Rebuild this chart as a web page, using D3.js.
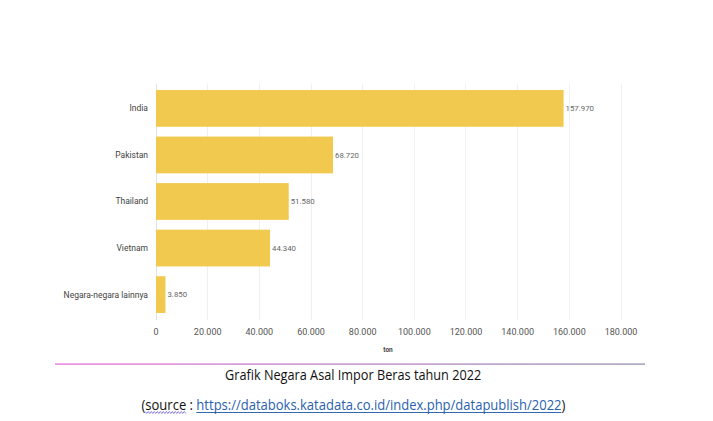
<!DOCTYPE html>
<html>
<head>
<meta charset="utf-8">
<script src="https://cdn.jsdelivr.net/npm/d3@7"></script>
<style>
  html, body { margin: 0; padding: 0; background: #fff; }
  svg { display: block; }
</style>
</head>
<body>
<svg id="chart" width="713" height="421"></svg>
<script>
// ---- data ----
const categories = ["India", "Pakistan", "Thailand", "Vietnam", "Negara-negara lainnya"];
const values = [157970, 68720, 51580, 44340, 3850];
const xTicks = [0, 20000, 40000, 60000, 80000, 100000, 120000, 140000, 160000, 180000];
const axisTitle = "ton";
const captionText = "Grafik Negara Asal Impor Beras tahun 2022";
const sourcePrefix = "(source : ";
const sourceUrl = "https://databoks.katadata.co.id/index.php/datapublish/2022";
const sourceSuffix = ")";

const svg = d3.select("#chart");
const loc = d3.formatLocale({decimal: ",", thousands: ".", grouping: [3], currency: ["", ""]});
const fmt = loc.format(",d");

const x = d3.scaleLinear().domain([0, 180000]).range([155.5, 620.5]);
const y = d3.scaleBand().domain(categories).range([83.5, 319.5]).paddingInner(0.21).paddingOuter(0.14);

const chartFont = "Roboto, 'Liberation Sans', sans-serif";

// gridlines
svg.append("g").selectAll("line").data(xTicks.slice(1)).join("line")
  .attr("x1", d => Math.round(x(d)) + 0.5).attr("x2", d => Math.round(x(d)) + 0.5)
  .attr("y1", 83.5).attr("y2", 320)
  .attr("stroke", "#f0f0f0").attr("stroke-width", 1);

// axis line
svg.append("line")
  .attr("x1", Math.round(x(0)) + 0.5).attr("x2", Math.round(x(0)) + 0.5)
  .attr("y1", 83.5).attr("y2", 320)
  .attr("stroke", "#e2e2e2");

// bars
svg.append("g").selectAll("rect").data(categories).join("rect")
  .attr("x", x(0) + 0.5)
  .attr("y", d => y(d))
  .attr("width", (d, i) => x(values[i]) - x(0) - 0.5)
  .attr("height", y.bandwidth())
  .attr("fill", "#f2c94f");

// category labels
svg.append("g").selectAll("text").data(categories).join("text")
  .attr("x", 148)
  .attr("y", d => y(d) + y.bandwidth() / 2)
  .attr("dy", "0.35em")
  .attr("text-anchor", "end")
  .attr("font-family", chartFont)
  .attr("font-size", 8.5)
  .attr("fill", "#444")
  .text(d => d);

// value labels
svg.append("g").selectAll("text").data(categories).join("text")
  .attr("x", (d, i) => x(values[i]) + 2)
  .attr("y", d => y(d) + y.bandwidth() / 2)
  .attr("dy", "0.35em")
  .attr("font-family", chartFont)
  .attr("font-size", 7.8)
  .attr("fill", "#666")
  .text((d, i) => fmt(values[i]));

// x axis tick labels
const xAxis = d3.axisBottom(x).tickValues(xTicks).tickFormat(fmt).tickSize(0).tickPadding(0);
const gx = svg.append("g").attr("transform", "translate(0,329)").call(xAxis);
gx.select(".domain").remove();
gx.selectAll("text")
  .attr("font-family", chartFont)
  .attr("font-size", 9)
  .attr("fill", "#555");

// axis title
svg.append("text")
  .attr("x", (x.range()[0] + x.range()[1]) / 2)
  .attr("y", 352)
  .attr("text-anchor", "middle")
  .attr("font-family", chartFont)
  .attr("font-size", 6.5)
  .attr("font-weight", "bold")
  .attr("fill", "#444")
  .text(axisTitle);

// separator line with gradient
const defs = svg.append("defs");
const grad = defs.append("linearGradient").attr("id", "sepGrad")
  .attr("x1", "0%").attr("x2", "100%").attr("y1", "0%").attr("y2", "0%");
grad.append("stop").attr("offset", "0%").attr("stop-color", "#e464d4");
grad.append("stop").attr("offset", "50%").attr("stop-color", "#b478c0");
grad.append("stop").attr("offset", "100%").attr("stop-color", "#8c86a6");
svg.append("rect")
  .attr("x", 55).attr("y", 363.5).attr("width", 590).attr("height", 1.2)
  .attr("fill", "url(#sepGrad)");

// caption
const docFont = "'Open Sans', 'Noto Sans', sans-serif";
function fitWidth(g, left, target) {
  const bb = g.node().getBBox();
  const s = target / bb.width;
  g.attr("transform", `translate(${left},0) scale(${s},1) translate(${-bb.x},0)`);
  return s;
}
const capG = svg.append("g");
capG.append("text")
  .attr("x", 0).attr("y", 380)
  .attr("font-family", docFont).attr("font-size", 14.2)
  .attr("fill", "#111")
  .text(captionText);
fitWidth(capG, 225, 256);

// source line
const srcG = svg.append("g");
const srcText = srcG.append("text")
  .attr("x", 0).attr("y", 410)
  .attr("font-family", docFont).attr("font-size", 14.2)
  .attr("fill", "#111");
srcText.append("tspan").attr("class", "pre").text(sourcePrefix);
srcText.append("tspan").attr("class", "url").attr("fill", "#2a62b0").text(sourceUrl);
srcText.append("tspan").attr("class", "suf").text(sourceSuffix);
const s = fitWidth(srcG, 141.5, 424);

// underline for hyperlink and wavy spell-check line, in local coords
const urlStart = srcText.node().getStartPositionOfChar(sourcePrefix.length).x;
const urlEnd = srcText.node().getEndPositionOfChar(sourcePrefix.length + sourceUrl.length - 1).x;
srcG.append("line")
  .attr("x1", urlStart).attr("x2", urlEnd)
  .attr("y1", 412.5).attr("y2", 412.5)
  .attr("stroke", "#2a62b0").attr("stroke-width", 1);
const wStart = srcText.node().getStartPositionOfChar(1).x;
const wEnd = srcText.node().getEndPositionOfChar(6).x;
let p = "";
const amp = 1.0, per = 3 / s;
for (let xx = wStart, k = 0; xx <= wEnd; xx += per / 2, k++) {
  p += (k === 0 ? "M" : "L") + xx + "," + (412.5 + (k % 2 === 0 ? -amp : amp));
}
srcG.append("path").attr("d", p).attr("fill", "none")
  .attr("stroke", "#6a5ad0").attr("stroke-width", 0.8);
</script>
</body>
</html>
